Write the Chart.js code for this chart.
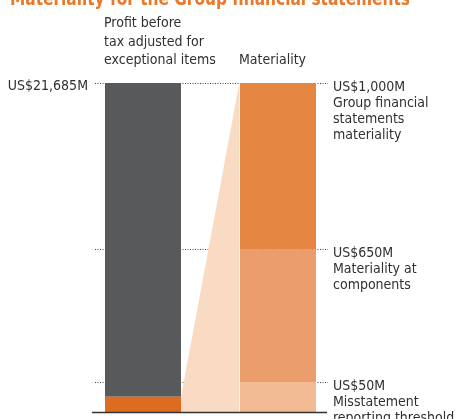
<!DOCTYPE html>
<html>
<head>
<meta charset="utf-8">
<script src="https://cdn.jsdelivr.net/npm/chart.js@4.4.1/dist/chart.umd.min.js"></script>
<style>
  html, body { margin: 0; padding: 0; background: #fff; }
  #wrap { width: 461px; height: 419px; }
</style>
</head>
<body>
<div id="wrap"><canvas id="materialityChart" width="461" height="419"></canvas></div>
<script>
// values in US$ millions
const chartTitle = 'Materiality for the Group financial statements';
const barNames = ['Profit before tax adjusted for exceptional items', 'Materiality'];
const barHeaders = [['Profit before', 'tax adjusted for', 'exceptional items'], ['Materiality']];
const profitBeforeTax = 21685;
const materialityLevels = [1000, 650, 50];
const materialityNotes = [
    ['Group financial', 'statements', 'materiality'],
    ['Materiality at', 'components'],
    ['Misstatement', 'reporting threshold']
];

const TEXT_FONT = '14px "DejaVu Sans Condensed", "DejaVu Sans", sans-serif';
const TEXT_COLOR = '#303030';

const money = v => 'US$' + v.toLocaleString('en-US') + 'M';

// the materiality bar is not to scale: each band gets a fixed share of the height
const bandBreaks = [
    [0, 0],
    [materialityLevels[2], 0.091],
    [materialityLevels[1], 0.495],
    [materialityLevels[0], 1]
];

class BandScale extends Chart.LinearScale {
    static id = 'band';
    static defaults = Chart.LinearScale.defaults;

    toDecimal(value) {
        for (let i = 1; i < bandBreaks.length; i++) {
            const [v0, d0] = bandBreaks[i - 1];
            const [v1, d1] = bandBreaks[i];
            if (value <= v1 || i === bandBreaks.length - 1) {
                return d0 + (value - v0) / (v1 - v0) * (d1 - d0);
            }
        }
        return 0;
    }

    getPixelForValue(value) {
        if (value === null || value === undefined || isNaN(value)) return NaN;
        return this.getPixelForDecimal(this.toDecimal(value));
    }

    getValueForPixel(pixel) {
        const d = this.getDecimalForPixel(pixel);
        for (let i = 1; i < bandBreaks.length; i++) {
            const [v0, d0] = bandBreaks[i - 1];
            const [v1, d1] = bandBreaks[i];
            if (d <= d1 || i === bandBreaks.length - 1) {
                return v0 + (d - d0) / (d1 - d0) * (v1 - v0);
            }
        }
        return 0;
    }
}
Chart.register(BandScale);

function fillFitted(ctx, text, x, y, width) {
    const w = ctx.measureText(text).width;
    ctx.save();
    ctx.translate(x, y);
    ctx.scale(width / w, 1);
    ctx.fillText(text, 0, 0);
    ctx.restore();
}

function barEdges(chart, datasetIndex, index) {
    const bar = chart.getDatasetMeta(datasetIndex).data[index];
    return { left: bar.x - bar.width / 2, right: bar.x + bar.width / 2 };
}

const decorPlugin = {
    id: 'materialityDecor',
    beforeDatasetsDraw(chart) {
        const ctx = chart.ctx;
        const { y, yR } = chart.scales;
        const lb = barEdges(chart, 0, 0);
        const rb = barEdges(chart, 2, 1);
        const base = yR.getPixelForValue(0);

        // dotted guide lines
        ctx.save();
        ctx.strokeStyle = '#404040';
        ctx.lineWidth = 1;
        ctx.setLineDash([1, 1.5]);
        materialityLevels.forEach(level => {
            const py = Math.round(yR.getPixelForValue(level)) + 0.5;
            ctx.beginPath();
            ctx.moveTo(lb.left - 10, py);
            ctx.lineTo(rb.right + 12, py);
            ctx.stroke();
        });
        ctx.restore();

        // wedge from the materiality slice of profit up to the full materiality bar
        ctx.save();
        ctx.fillStyle = '#f9dbc4';
        ctx.beginPath();
        ctx.moveTo(lb.right, y.getPixelForValue(materialityLevels[0]));
        ctx.lineTo(rb.left - 0.7, yR.getPixelForValue(materialityLevels[0]));
        ctx.lineTo(rb.left - 0.7, base);
        ctx.lineTo(lb.right, base);
        ctx.closePath();
        ctx.fill();
        ctx.restore();
    },
    afterDatasetsDraw(chart) {
        const ctx = chart.ctx;
        const { y, yR } = chart.scales;
        const lb = barEdges(chart, 0, 0);
        const rb = barEdges(chart, 2, 1);
        const base = yR.getPixelForValue(0);

        // baseline
        ctx.save();
        ctx.strokeStyle = '#333';
        ctx.lineWidth = 1.6;
        ctx.beginPath();
        ctx.moveTo(lb.left - 13, base + 0.5);
        ctx.lineTo(rb.right + 11, base + 0.5);
        ctx.stroke();

        ctx.fillStyle = TEXT_COLOR;
        ctx.font = TEXT_FONT;
        ctx.textBaseline = 'alphabetic';

        // total profit label
        ctx.textAlign = 'right';
        ctx.fillText(money(profitBeforeTax), lb.left - 17, y.getPixelForValue(profitBeforeTax) + 6.5);

        // headers over the bars
        ctx.textAlign = 'left';
        const headTop = chart.chartArea.top;
        barHeaders[0].forEach((line, i, all) => {
            ctx.fillText(line, lb.left - 1, headTop - 19 - (all.length - 1 - i) * 18.5);
        });
        ctx.fillText(barHeaders[1][0], rb.left - 1, headTop - 19);

        // notes on the right
        materialityLevels.forEach((level, k) => {
            const py = yR.getPixelForValue(level) + 7.5;
            [money(level), ...materialityNotes[k]].forEach((line, i) => {
                ctx.fillText(line, rb.right + 17, py + i * 16);
            });
        });

        // title
        ctx.fillStyle = '#e8782a';
        ctx.font = 'bold 19px "DejaVu Sans Condensed", "DejaVu Sans", sans-serif';
        fillFitted(ctx, chartTitle, 10, 5, 400);
        ctx.restore();
    }
};

const ctx = document.getElementById('materialityChart').getContext('2d');

new Chart(ctx, {
    type: 'bar',
    data: {
        labels: barNames,
        datasets: [
            { label: 'Group materiality', data: [materialityLevels[0], null], backgroundColor: '#dd6b20', yAxisID: 'y' },
            { label: 'Profit', data: [profitBeforeTax - materialityLevels[0], null], backgroundColor: '#58595b', yAxisID: 'y' },
            { label: 'Reporting threshold', data: [null, materialityLevels[2]], backgroundColor: '#f2bb93', yAxisID: 'yR' },
            { label: 'Component materiality', data: [null, materialityLevels[1] - materialityLevels[2]], backgroundColor: '#eb9e6b', yAxisID: 'yR' },
            { label: 'Group financial statements materiality', data: [null, materialityLevels[0] - materialityLevels[1]], backgroundColor: '#e58743', yAxisID: 'yR' }
        ]
    },
    options: {
        responsive: false,
        animation: false,
        events: [],
        layout: { padding: { left: 75.5, right: 115.5, top: 83, bottom: 7 } },
        datasets: {
            bar: { grouped: false, categoryPercentage: 1, barPercentage: 0.563, borderWidth: 0 }
        },
        plugins: {
            legend: { display: false },
            tooltip: { enabled: false }
        },
        scales: {
            x: { display: false, stacked: true },
            y: { display: false, stacked: true, min: 0, max: profitBeforeTax },
            yR: { type: 'band', display: false, stacked: true, min: 0, max: materialityLevels[0], position: 'right' }
        }
    },
    plugins: [decorPlugin]
});
</script>
</body>
</html>
